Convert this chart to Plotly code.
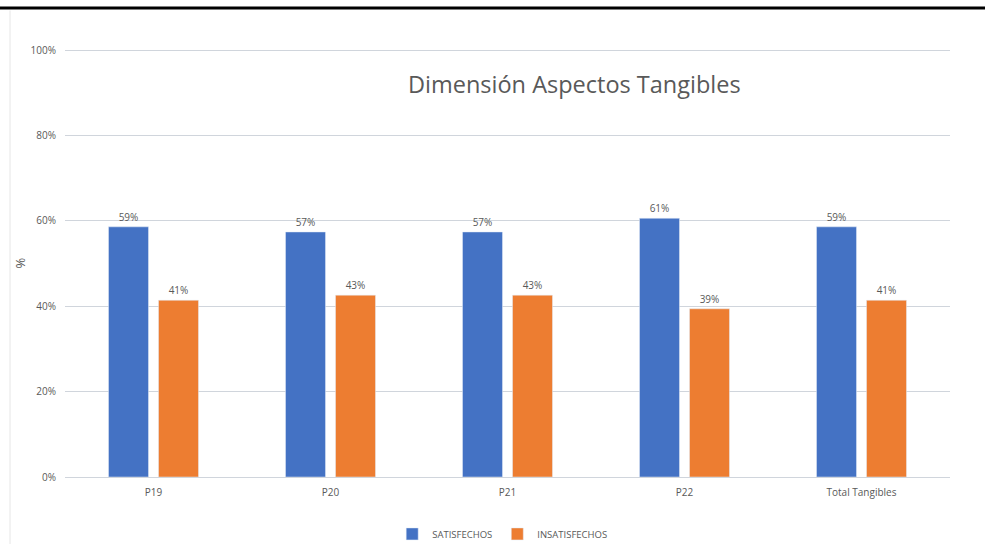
import plotly.graph_objects as go

categories = ["P19", "P20", "P21", "P22", "Total Tangibles"]
satisfechos = [58.6, 57.4, 57.4, 60.6, 58.6]
insatisfechos = [41.4, 42.6, 42.6, 39.4, 41.4]
y_ticks = [0, 20, 40, 60, 80, 100]
y_tick_text = ["0%", "20%", "40%", "60%", "80%", "100%"]

BLUE = "#4472C4"
ORANGE = "#ED7D31"
TXT = "#595959"
FONT = "Open Sans"

fig = go.Figure()
fig.add_trace(go.Bar(
    x=categories, y=satisfechos, name="SATISFECHOS",
    marker=dict(color=BLUE),
    texttemplate="%{y:.0f}%", textposition="outside",
    textfont=dict(size=10, color=TXT, family=FONT), cliponaxis=False,
))
fig.add_trace(go.Bar(
    x=categories, y=insatisfechos, name="INSATISFECHOS",
    marker=dict(color=ORANGE),
    texttemplate="%{y:.0f}%", textposition="outside",
    textfont=dict(size=10, color=TXT, family=FONT), cliponaxis=False,
))

fig.update_layout(
    width=985, height=544,
    margin=dict(l=65, r=35, t=49, b=67, autoexpand=False),
    paper_bgcolor="white", plot_bgcolor="white",
    barmode="group", bargap=0.435, bargroupgap=0.2,
    font=dict(family=FONT, color=TXT, size=10),
    showlegend=True,
    legend=dict(orientation="h", x=0.494, xanchor="center", y=-0.133, yanchor="middle",
                font=dict(size=9.5, color=TXT, family=FONT), itemwidth=30,
                traceorder="normal"),
    xaxis=dict(showgrid=False, showline=False, zeroline=False, ticks="",
               ticklabelstandoff=8,
               tickfont=dict(size=10, color=TXT, family=FONT)),
    yaxis=dict(range=[0, 100.25], tickvals=y_ticks, ticktext=y_tick_text,
               showgrid=True, gridcolor="#D0D5DC", gridwidth=1,
               zeroline=True, zerolinecolor="#D0D5DC", zerolinewidth=1,
               showline=False, ticks="", ticklabelstandoff=8,
               tickfont=dict(size=10, color=TXT, family=FONT),
               title=dict(text="%", font=dict(size=13, color=TXT, family=FONT), standoff=2)),
    shapes=[
        dict(type="line", xref="paper", yref="paper",
             x0=-0.08, x1=1.05, y0=1.096, y1=1.096,
             line=dict(color="black", width=3)),
        dict(type="line", xref="paper", yref="paper",
             x0=-0.0621, x1=-0.0621, y0=1.09, y1=-0.16,
             line=dict(color="#E6E6E6", width=1)),
    ],
    annotations=[
        dict(text="Dimensión Aspectos Tangibles", xref="paper", yref="paper",
             x=(574 - 65) / 885, y=(477 - 85) / 427, xanchor="center", yanchor="middle",
             showarrow=False, font=dict(size=23.5, color=TXT, family=FONT)),
    ],
)

fig.write_html("out.html")
